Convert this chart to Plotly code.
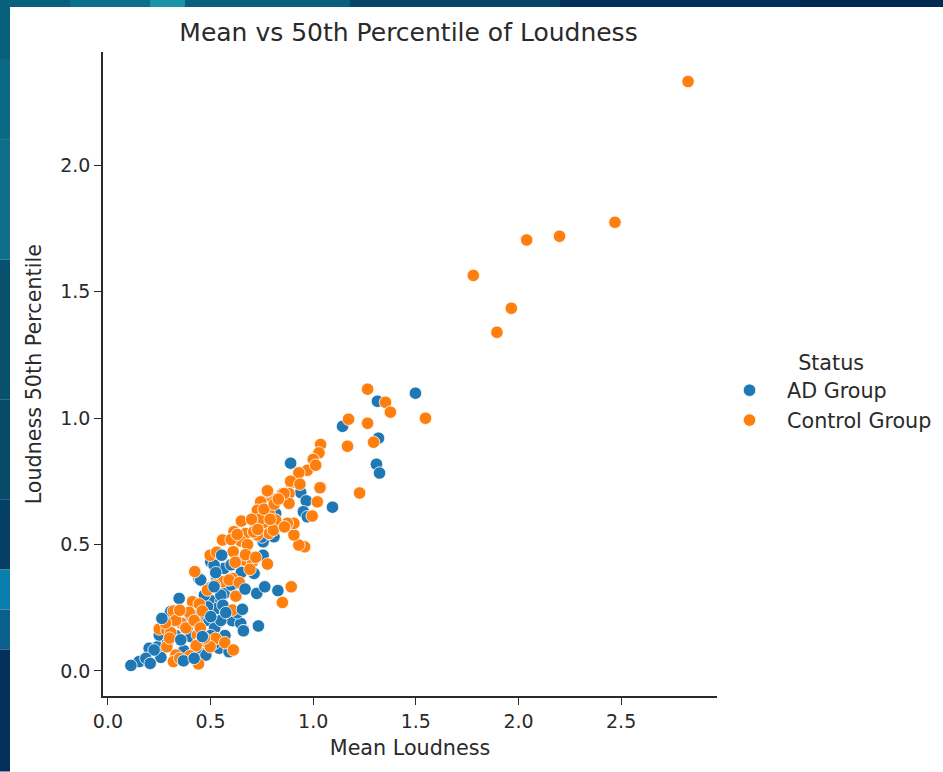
import plotly.graph_objects as go

TITLE = "Mean vs 50th Percentile of Loudness"
X_LABEL = "Mean Loudness"
Y_LABEL = "Loudness 50th Percentile"
LEGEND_TITLE = "Status"
AD = "AD Group"
CONTROL = "Control Group"
X_TICKS = [0.0, 0.5, 1.0, 1.5, 2.0, 2.5]
Y_TICKS = [0.0, 0.5, 1.0, 1.5, 2.0]

# AD points drawn beneath the control group
ad_under_x = [.169,.201,.258,.263,.306,.347,.387,.404,.242,.225,.152,.185,.250,.452,.477,.542,.590,
              .533,.501,.550,.517,.444,.566,.712,.756,.809,.817,.631,.501,.631,.566,.533,.485,.452,
              .517,.939,.966,.952,.971,.756,.606,.647,.660,1.143,1.313,1.318,.574,
              .50,.53,.55,.60,.47,.49,.52,.55,.44,.40,.36,.30,.33,.29,.37,.43,.50,.56,.60,.65,.79,.75,.83,.63,.52,.57]
ad_under_y = [.043,.090,.054,.208,.235,.287,.169,.136,.096,.083,.037,.050,.142,.070,.063,.090,.076,
              .188,.278,.274,.333,.366,.406,.386,.458,.531,.623,.347,.432,.432,.307,.248,.254,.360,
              .419,.706,.673,.630,.610,.511,.199,.188,.159,.968,1.067,.921,.231,
              .33,.36,.30,.34,.30,.20,.17,.20,.22,.20,.19,.19,.14,.11,.08,.09,.14,.26,.42,.39,.55,.53,.58,.23,.11,.14]
# AD points drawn above the control group
ad_over_x = [.112,.206,.368,.420,.460,.355,.263,.501,.655,.733,.668,.725,.764,.828,.517,.525,.554,
             1.094,.890,1.498,1.308,1.323,.660,.574]
ad_over_y = [.022,.030,.040,.050,.136,.123,.208,.215,.244,.178,.324,.307,.333,.318,.333,.389,.458,
             .648,.822,1.099,.818,.783,.159,.231]
# Control group
ctrl_x = [2.826,2.47,2.20,2.04,1.78,1.965,1.895,1.547,1.265,1.352,1.376,1.172,1.265,1.167,1.294,1.226,
          1.036,1.020,.995,.958,.930,.906,.906,.874,.890,.935,.882,.882,.850,.785,.776,.744,.728,.785,
          .817,.720,.777,.785,.728,.806,.650,.614,.671,.647,.558,.610,.663,.498,.704,.692,.777,.423,
          .606,.558,.623,.893,.850,.319,.412,.445,.396,.460,.250,.287,.358,.436,.306,.436,.452,.525,
          .569,.611,.498,.287,.331,.319,.441,.485,.606,1.036,1.028,1.0,.971,.930,1.012,.890,.935,1.033,
          .858,.777,
          .33,.35,.38,.30,.28,.42,.45,.47,.43,.40,.35,.52,.59,.64,.53,.60,.63,.68,.71,.74,.76,.81,.70,.83,.86,.79,.73,.67,.72,.62]
ctrl_y = [2.332,1.775,1.72,1.705,1.565,1.435,1.34,1.0,1.115,1.063,1.024,.996,.98,.889,.905,.704,
          .726,.669,.613,.491,.498,.538,.584,.584,.744,.742,.702,.663,.702,.692,.709,.669,.636,.623,
          .597,.570,.584,.544,.538,.557,.593,.551,.544,.514,.518,.472,.439,.458,.432,.402,.423,.393,
          .366,.353,.296,.333,.271,.237,.274,.265,.232,.237,.166,.162,.188,.188,.152,.142,.116,.129,
          .112,.083,.096,.096,.063,.037,.028,.320,.241,.896,.863,.837,.794,.784,.814,.751,.739,.725,
          .702,.713,
          .20,.24,.17,.13,.19,.20,.17,.13,.10,.06,.05,.34,.36,.35,.47,.52,.54,.50,.55,.60,.64,.66,.60,.68,.57,.60,.56,.46,.45,.43]

BLUE = "#1f77b4"
ORANGE = "#ff7f0e"
INK = "#2a2a2a"
FONT = "DejaVu Sans"
W, H = 943, 772
L, R, T, B = 103, 717, 52.5, 696.5
marker = dict(size=12.5, line=dict(color="white", width=0.8))

fig = go.Figure()
fig.add_trace(go.Scatter(x=ad_under_x, y=ad_under_y, mode="markers", name=AD, legendgroup="a",
                         marker=dict(color=BLUE, **marker)))
fig.add_trace(go.Scatter(x=ctrl_x, y=ctrl_y, mode="markers", name=CONTROL, legendgroup="c",
                         marker=dict(color=ORANGE, **marker)))
fig.add_trace(go.Scatter(x=ad_over_x, y=ad_over_y, mode="markers", name=AD, legendgroup="a", showlegend=False,
                         marker=dict(color=BLUE, **marker)))

# Photographed slide backdrop: left and top strips of the white panel
left_bands = [(0,60,"#07607c"),(60,140,"#0a6a85"),(140,260,"#0f6f8a"),(260,400,"#07516f"),(400,500,"#064a6a"),
              (500,570,"#053f66"),(570,610,"#0a7fae"),(610,650,"#0a5f8c"),(650,772,"#03305a")]
top_bands = [(0,70,"#07607c"),(70,150,"#0a6f8a"),(150,185,"#1a93a8"),(185,350,"#0b5f7c"),(350,560,"#074566"),
             (560,800,"#03315a"),(800,943,"#032a4f")]
shapes = []
def px(x): return (x - L) / (R - L)
def py(y): return (B - y) / B
for a, b, c in left_bands:
    shapes.append(dict(type="rect", xref="paper", yref="paper", x0=px(0), x1=px(10), y0=py(a), y1=py(b),
                       fillcolor=c, line_width=0, layer="below"))
for a, b, c in top_bands:
    shapes.append(dict(type="rect", xref="paper", yref="paper", x0=px(a), x1=px(b), y0=py(0), y1=py(7),
                       fillcolor=c, line_width=0, layer="below"))

axis = dict(showgrid=False, zeroline=False, showline=True, linecolor=INK, linewidth=1.5, ticks="outside",
            ticklen=7, tickwidth=1.4, tickcolor=INK, tickfont=dict(size=19, color=INK, family=FONT),
            tickformat=".1f")
fig.update_layout(
    width=W, height=H, autosize=False, paper_bgcolor="white", plot_bgcolor="white",
    margin=dict(l=L, r=W - R, t=0, b=H - B),
    font=dict(family=FONT, color=INK),
    title=dict(text=TITLE, x=408.5 / W, xanchor="center", y=1 - 32 / H, yanchor="middle",
               font=dict(size=25, color=INK, family=FONT)),
    xaxis=dict(axis, range=[-0.024, 2.967], tickvals=X_TICKS,
               title=dict(text=X_LABEL, font=dict(size=20.7, color=INK), standoff=10)),
    yaxis=dict(axis, range=[-0.099, 2.447], tickvals=Y_TICKS, domain=[0, (B - T) / B],
               title=dict(text=Y_LABEL, font=dict(size=20.7, color=INK), standoff=13)),
    legend=dict(x=0.9919, y=0.437, xanchor="left", yanchor="middle", bgcolor="rgba(0,0,0,0)",
                title=dict(text="\u00a0\u00a0" + LEGEND_TITLE, side="top center", font=dict(size=20.7, color=INK)),
                font=dict(size=20.7, color=INK), itemsizing="trace", itemwidth=65, tracegroupgap=0),
    shapes=shapes,
)
fig.write_html("out.html", post_script="document.body.style.margin='0';", config={"displayModeBar": False})
